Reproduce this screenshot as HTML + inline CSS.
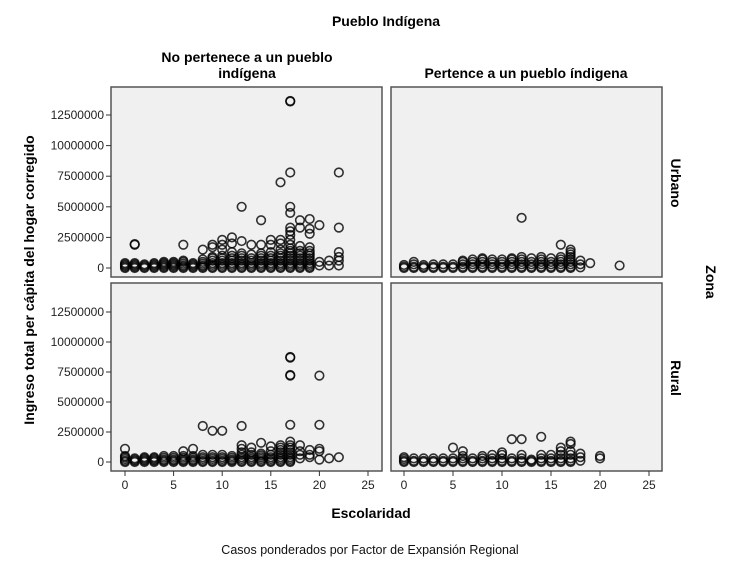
<!DOCTYPE html>
<html><head><meta charset="utf-8">
<style>
body{margin:0;background:#fff;}
svg{display:block;font-family:"Liberation Sans",sans-serif;}
</style></head>
<body>
<svg id="chart" width="737" height="568" viewBox="0 0 737 568">
<text x="386" y="26" text-anchor="middle" font-size="14" font-weight="bold">Pueblo Indígena</text>
<text x="247" y="62" text-anchor="middle" font-size="14" font-weight="bold">No pertenece a un pueblo</text>
<text x="247" y="78" text-anchor="middle" font-size="14" font-weight="bold">indígena</text>
<text x="526" y="78" text-anchor="middle" font-size="14" font-weight="bold">Pertence a un pueblo índigena</text>
<text transform="translate(671,183) rotate(90)" text-anchor="middle" font-size="14" font-weight="bold">Urbano</text>
<text transform="translate(671,378) rotate(90)" text-anchor="middle" font-size="14" font-weight="bold">Rural</text>
<text transform="translate(706,282) rotate(90)" text-anchor="middle" font-size="14" font-weight="bold">Zona</text>
<text transform="translate(34,280) rotate(-90)" text-anchor="middle" font-size="14" font-weight="bold">Ingreso total per cápita del hogar corregido</text>
<text x="371" y="518" text-anchor="middle" font-size="14" font-weight="bold">Escolaridad</text>
<text x="370" y="554" text-anchor="middle" font-size="12.5" fill="#111">Casos ponderados por Factor de Expansión Regional</text>
<g id="plots"></g>
</svg>
<script>
// data: values in millions per schooling year
const tlYears=[0,1,2,3,4,5,6,7,8,9,10,11,12,13,14,15,16,17,18,19,20,21,22];
const tlValues=[[0.0,0.1,0.2,0.3,0.4],[0.0,0.1,0.2,0.3,0.4,1.9,1.95],[0.0,0.1,0.2,0.3],[0.0,0.1,0.2,0.3,0.4],[0.0,0.1,0.2,0.3,0.4,0.5],[0.0,0.1,0.2,0.3,0.4,0.5],[0.0,0.1,0.2,0.35,0.5,0.6,1.9],[0.0,0.1,0.2,0.3,0.4],[0.0,0.1,0.2,0.35,0.5,0.7,1.5],[0.0,0.1,0.25,0.4,0.6,0.8,0.9,1.7,1.9],[0.0,0.1,0.25,0.4,0.6,0.8,1.0,1.5,1.9,2.3],[0.0,0.1,0.25,0.4,0.6,0.8,1.0,1.3,2.0,2.5],[0.0,0.1,0.25,0.4,0.6,0.8,1.0,1.2,2.2,5.0],[0.0,0.1,0.25,0.4,0.6,0.8,1.1,1.9],[0.0,0.1,0.25,0.4,0.6,0.8,1.0,1.2,1.9,3.9],[0.0,0.1,0.25,0.4,0.6,0.8,1.0,1.3,1.9,2.3],[0.0,0.1,0.25,0.4,0.6,0.8,1.0,1.2,1.5,2.0,2.3,7.0],[0.0,0.1,0.25,0.4,0.6,0.8,1.0,1.2,1.4,1.6,1.9,2.3,2.7,3.0,3.3,4.5,5.0,7.8,13.6,13.65],[0.0,0.1,0.25,0.4,0.6,0.8,1.0,1.2,1.4,1.8,3.3,3.9],[0.0,0.1,0.25,0.4,0.6,0.8,1.0,1.2,1.4,1.7,2.8,3.2,4.0],[0.2,0.5,3.5],[0.2,0.6],[0.2,0.6,0.9,1.3,3.3,7.8]];
const trYears=[0,1,2,3,4,5,6,7,8,9,10,11,12,13,14,15,16,17,18,19,22];
const trValues=[[0.0,0.1,0.25],[0.0,0.1,0.3,0.5],[0.0,0.1,0.25],[0.0,0.1,0.3],[0.0,0.1,0.3],[0.0,0.1,0.3],[0.0,0.1,0.3,0.5,0.6],[0.0,0.1,0.3,0.5,0.7],[0.0,0.1,0.3,0.5,0.7,0.8],[0.0,0.1,0.3,0.5,0.7],[0.0,0.1,0.3,0.5,0.7],[0.0,0.1,0.3,0.5,0.7,0.8],[0.0,0.1,0.3,0.5,0.7,0.9,4.1],[0.0,0.1,0.3,0.5,0.8],[0.0,0.1,0.3,0.5,0.7,0.9],[0.0,0.1,0.3,0.5,0.8],[0.0,0.1,0.3,0.5,0.7,0.9,1.9],[0.0,0.1,0.3,0.5,0.7,0.9,1.1,1.3,1.5],[0.05,0.3,0.6],[0.4],[0.2]];
const blYears=[0,1,2,3,4,5,6,7,8,9,10,11,12,13,14,15,16,17,18,19,20,21,22];
const blValues=[[0.0,0.1,0.25,0.4,0.5,1.1],[0.0,0.1,0.2,0.3],[0.0,0.1,0.2,0.3,0.4],[0.0,0.1,0.2,0.3,0.4],[0.0,0.1,0.2,0.35,0.5],[0.0,0.1,0.2,0.35,0.5],[0.0,0.1,0.2,0.35,0.5,0.9],[0.0,0.1,0.2,0.35,0.5,1.1],[0.0,0.1,0.25,0.4,0.6,3.0],[0.0,0.1,0.25,0.4,0.6,2.6],[0.0,0.1,0.25,0.4,0.6,2.6],[0.0,0.1,0.2,0.35,0.5],[0.0,0.1,0.25,0.4,0.6,0.8,1.1,1.4,3.0],[0.0,0.1,0.25,0.4,0.6,0.8,1.2],[0.0,0.1,0.25,0.4,0.55,0.7,1.6],[0.0,0.1,0.25,0.4,0.6,0.9,1.3],[0.0,0.1,0.25,0.4,0.6,0.8,1.0,1.2,1.4],[0.0,0.1,0.25,0.4,0.6,0.8,1.0,1.2,1.4,1.7,3.1,7.2,7.25,8.7,8.75],[0.3,0.6,0.9,1.4],[0.4,0.6,1.0],[0.2,0.9,1.1,3.1,7.2],[0.3],[0.4]];
const brYears=[0,1,2,3,4,5,6,7,8,9,10,11,12,13,14,15,16,17,18,20];
const brValues=[[0.0,0.1,0.25,0.4],[0.0,0.1,0.3],[0.0,0.1,0.3],[0.0,0.1,0.3],[0.0,0.1,0.3],[0.0,0.1,0.3,1.2],[0.0,0.1,0.3,0.5,0.9],[0.0,0.1,0.3],[0.0,0.1,0.3,0.5],[0.0,0.1,0.3,0.6],[0.0,0.1,0.3,0.6,0.8],[0.0,0.1,0.3,1.9],[0.0,0.1,0.3,0.6,1.9],[0.0,0.1,0.2],[0.0,0.1,0.3,0.6,2.1],[0.0,0.1,0.3,0.6],[0.0,0.1,0.3,0.6,0.9,1.2],[0.0,0.1,0.3,0.6,0.9,1.5,1.7],[0.1,0.4,0.7],[0.3,0.5]];
const yTicks=[0,2.5,5,7.5,10,12.5];
const yTickLabels=["0","2500000","5000000","7500000","10000000","12500000"];
const xTicks=[0,5,10,15,20,25];

const NS="http://www.w3.org/2000/svg";
const root=document.getElementById('plots');
function mk(tag,attrs,parent){const e=document.createElementNS(NS,tag);for(const k in attrs)e.setAttribute(k,attrs[k]);parent.appendChild(e);return e;}
const panels=[
 {name:'urbano-no-indigena',x0:111,x1:382,y0:87,y1:277,xz:125,xs:9.72,yz:268,ys:12.24,years:tlYears,vals:tlValues,left:true,bottom:false},
 {name:'urbano-indigena',x0:391,x1:662,y0:87,y1:277,xz:404,xs:9.8,yz:268,ys:12.24,years:trYears,vals:trValues,left:false,bottom:false},
 {name:'rural-no-indigena',x0:111,x1:382,y0:283,y1:471,xz:125,xs:9.72,yz:462,ys:12.0,years:blYears,vals:blValues,left:true,bottom:true},
 {name:'rural-indigena',x0:391,x1:662,y0:283,y1:471,xz:404,xs:9.8,yz:462,ys:12.0,years:brYears,vals:brValues,left:false,bottom:true}
];
panels.forEach(p=>{
 const g=mk('g',{},root);
 
 
 const bg=mk('rect',{x:p.x0,y:p.y0,width:p.x1-p.x0,height:p.y1-p.y0,fill:'#f0f0f0',stroke:'#555','stroke-width':1.5},g);
 
 
 const X=v=>p.xz+v*p.xs, Y=v=>p.yz-v*p.ys;
 if(p.left){yTicks.forEach((t,i)=>{
   mk('line',{x1:p.x0-5,x2:p.x0,y1:Y(t),y2:Y(t),stroke:'#333'},g);
   const tx=mk('text',{x:p.x0-7,y:Y(t)+4,'text-anchor':'end','font-size':12,fill:'#222'},g);
   tx.textContent=yTickLabels[i];
   
   
 });}
 if(p.bottom){xTicks.forEach(t=>{
   mk('line',{x1:X(t),x2:X(t),y1:p.y1,y2:p.y1+5,stroke:'#333'},g);
   const tx=mk('text',{x:X(t),y:p.y1+18,'text-anchor':'middle','font-size':12,fill:'#222'},g);
   tx.textContent=String(t);
   
   
 });}
 p.years.forEach((yr,i)=>{
   p.vals[i].forEach(v=>{
     const c=mk('circle',{cx:X(yr),cy:Y(v),r:4.3,fill:'none',stroke:'#000','stroke-opacity':0.8,'stroke-width':1.6},g);
     
     
   });
 });
});
</script>
</body></html>
